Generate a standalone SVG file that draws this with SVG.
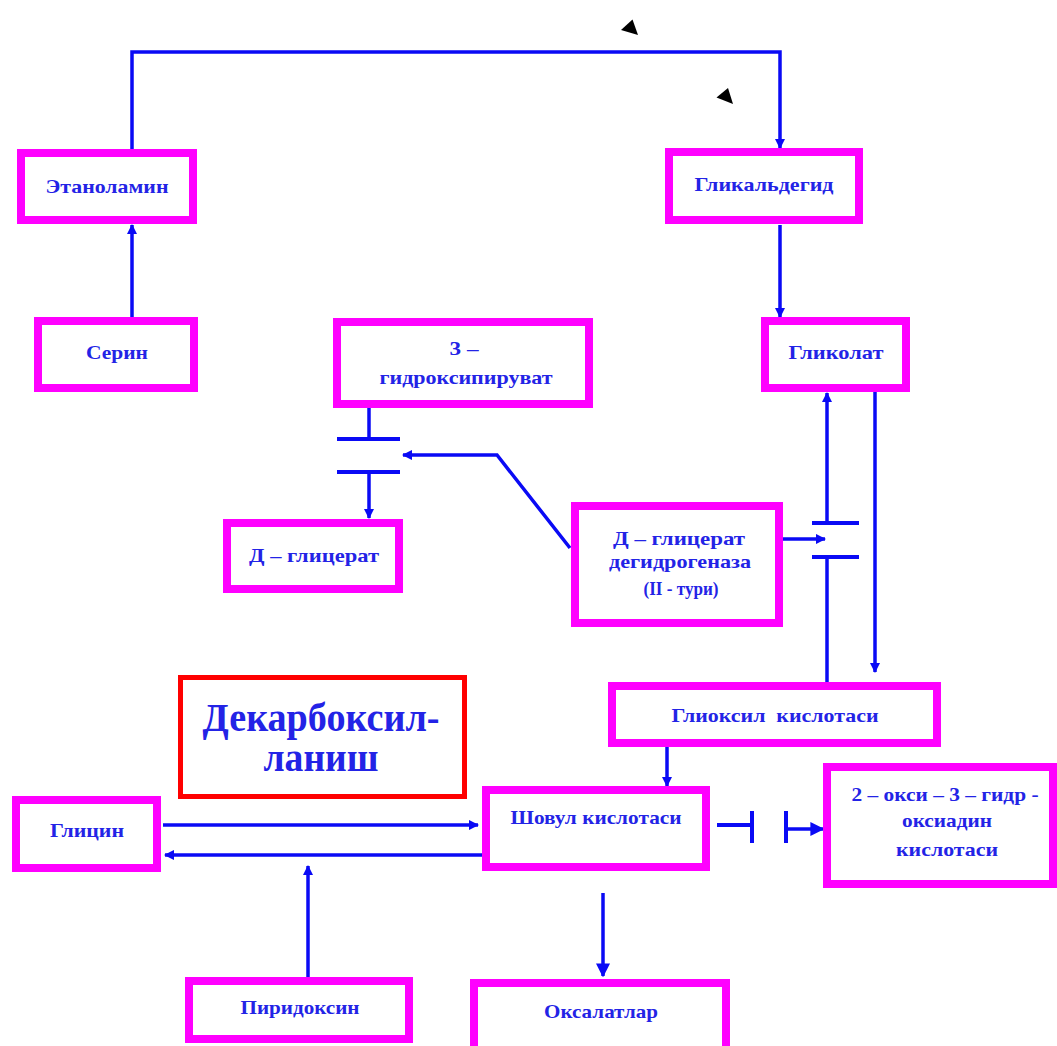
<svg xmlns="http://www.w3.org/2000/svg" width="1057" height="1046" viewBox="0 0 1057 1046">
  <style>
    .box { fill: #ffffff; stroke: #ff00ff; stroke-width: 8; }
    .title-box { fill: #ffffff; stroke: #ff0000; stroke-width: 5; }
    .lbl { font-family: "Liberation Serif", "Times New Roman", serif; font-weight: bold; font-size: 19px; fill: #2323e6; text-anchor: middle; }
    .big { font-size: 39px; }
    .wire { fill: none; stroke: #0a0af5; stroke-width: 3.5; }
    .bar { fill: none; stroke: #0a0af5; stroke-width: 4; }
    .mark { fill: #000000; }
  </style>
  <defs>
    <marker id="tip" viewBox="0 0 10 10" refX="9" refY="5" markerWidth="3" markerHeight="3" orient="auto" markerUnits="strokeWidth">
      <path d="M0,0 L10,5 L0,10 Z" fill="#0a0af5"/>
    </marker>
    <marker id="tipBig" viewBox="0 0 10 10" refX="9" refY="5" markerWidth="4" markerHeight="4" orient="auto" markerUnits="strokeWidth">
      <path d="M0,0 L10,5 L0,10 Z" fill="#0a0af5"/>
    </marker>
  </defs>

  <rect width="1057" height="1046" fill="#ffffff"/>

  <!-- connectors -->
  <g id="connectors">
    <path class="wire" d="M132,150 V52 H780 V148" marker-end="url(#tip)"/>
    <path class="wire" d="M132,318 V225" marker-end="url(#tip)"/>
    <path class="wire" d="M780,225 V317" marker-end="url(#tip)"/>

    <!-- 3-hydroxypyruvate to D-glycerate through the enzyme step -->
    <path class="wire" d="M369,408 V439"/>
    <path class="bar" d="M337,439 H400 M337,472 H400"/>
    <path class="wire" d="M369,472 V518" marker-end="url(#tip)"/>
    <path class="wire" d="M570,548 L497,455 H403" marker-end="url(#tip)"/>

    <!-- glycolate / glyoxylate exchange -->
    <path class="wire" d="M875,392 V672" marker-end="url(#tip)"/>
    <path class="wire" d="M827,683 V557"/>
    <path class="bar" d="M812,523 H859 M812,557 H859"/>
    <path class="wire" d="M827,523 V393" marker-end="url(#tip)"/>
    <path class="wire" d="M783,539 H825" marker-end="url(#tip)"/>

    <path class="wire" d="M667,746 V786" marker-end="url(#tip)"/>
    <path class="wire" d="M163,825 H478" marker-end="url(#tip)"/>
    <path class="wire" d="M482,855 H165" marker-end="url(#tip)"/>
    <path class="wire" d="M308,977 V866" marker-end="url(#tip)"/>
    <path class="wire" d="M603,893 V976" marker-end="url(#tipBig)"/>

    <!-- blocked step to the adipic acid derivative -->
    <path class="bar" d="M717,825 H752 M752,811 V843 M786,811 V843"/>
    <path class="wire" d="M786,829 H823" marker-end="url(#tipBig)"/>
  </g>

  <!-- small black marks above the top loop -->
  <g id="marks">
    <path class="mark" d="M632.5,19.5 L621,30 L638,35 Z"/>
    <path class="mark" d="M728,88 L716.5,97.5 L733,104 Z"/>
  </g>

  <g id="ethanolamine">
    <rect class="box" x="21" y="153" width="172" height="67"/>
    <text class="lbl" x="107" y="193" textLength="123" lengthAdjust="spacingAndGlyphs">Этаноламин</text>
  </g>

  <g id="glycolaldehyde">
    <rect class="box" x="669" y="152" width="190" height="68"/>
    <text class="lbl" x="764" y="191" textLength="139" lengthAdjust="spacingAndGlyphs">Гликальдегид</text>
  </g>

  <g id="serine">
    <rect class="box" x="38" y="321" width="156" height="67"/>
    <text class="lbl" x="117" y="359" textLength="62" lengthAdjust="spacingAndGlyphs">Серин</text>
  </g>

  <g id="hydroxypyruvate">
    <rect class="box" x="337" y="322" width="252" height="82"/>
    <text class="lbl" x="464" y="355" textLength="29" lengthAdjust="spacingAndGlyphs">3 –</text>
    <text class="lbl" x="466" y="384" textLength="173" lengthAdjust="spacingAndGlyphs">гидроксипируват</text>
  </g>

  <g id="glycolate">
    <rect class="box" x="765" y="321" width="141" height="67"/>
    <text class="lbl" x="836" y="359" textLength="95" lengthAdjust="spacingAndGlyphs">Гликолат</text>
  </g>

  <g id="d-glycerate">
    <rect class="box" x="227" y="523" width="172" height="66"/>
    <text class="lbl" x="314" y="562" textLength="130" lengthAdjust="spacingAndGlyphs">Д – глицерат</text>
  </g>

  <g id="glycerate-dehydrogenase">
    <rect class="box" x="575" y="506" width="204" height="117"/>
    <text class="lbl" x="679" y="545" textLength="132" lengthAdjust="spacingAndGlyphs">Д – глицерат</text>
    <text class="lbl" x="680" y="568" textLength="142" lengthAdjust="spacingAndGlyphs">дегидрогеназа</text>
    <text class="lbl" x="681" y="595" textLength="75" lengthAdjust="spacingAndGlyphs">(II - тури)</text>
  </g>

  <g id="glyoxylic-acid">
    <rect class="box" x="612" y="686" width="325" height="57"/>
    <text class="lbl" x="775" y="722" textLength="207" lengthAdjust="spacingAndGlyphs">Глиоксил&#160; кислотаси</text>
  </g>

  <g id="decarboxylation">
    <rect class="title-box" x="180.5" y="677.5" width="284" height="119"/>
    <text class="lbl big" x="321" y="731" textLength="237" lengthAdjust="spacingAndGlyphs">Декарбоксил-</text>
    <text class="lbl big" x="321" y="771" textLength="115" lengthAdjust="spacingAndGlyphs">ланиш</text>
  </g>

  <g id="glycine">
    <rect class="box" x="16" y="800" width="141" height="68"/>
    <text class="lbl" x="87" y="837" textLength="74" lengthAdjust="spacingAndGlyphs">Глицин</text>
  </g>

  <g id="oxalic-acid">
    <rect class="box" x="486" y="790" width="220" height="77"/>
    <text class="lbl" x="596" y="824" textLength="171" lengthAdjust="spacingAndGlyphs">Шовул кислотаси</text>
  </g>

  <g id="oxo-hydroxyadipic-acid">
    <rect class="box" x="827" y="767" width="226" height="117"/>
    <text class="lbl" x="945" y="801" textLength="187" lengthAdjust="spacingAndGlyphs">2 – окси – 3 – гидр -</text>
    <text class="lbl" x="947" y="827" textLength="90" lengthAdjust="spacingAndGlyphs">оксиадин</text>
    <text class="lbl" x="947" y="856" textLength="102" lengthAdjust="spacingAndGlyphs">кислотаси</text>
  </g>

  <g id="pyridoxine">
    <rect class="box" x="189" y="981" width="220" height="58"/>
    <text class="lbl" x="300" y="1014" textLength="119" lengthAdjust="spacingAndGlyphs">Пиридоксин</text>
  </g>

  <g id="oxalates">
    <rect class="box" x="474" y="983" width="252" height="80"/>
    <text class="lbl" x="601" y="1018" textLength="114" lengthAdjust="spacingAndGlyphs">Оксалатлар</text>
  </g>
</svg>
